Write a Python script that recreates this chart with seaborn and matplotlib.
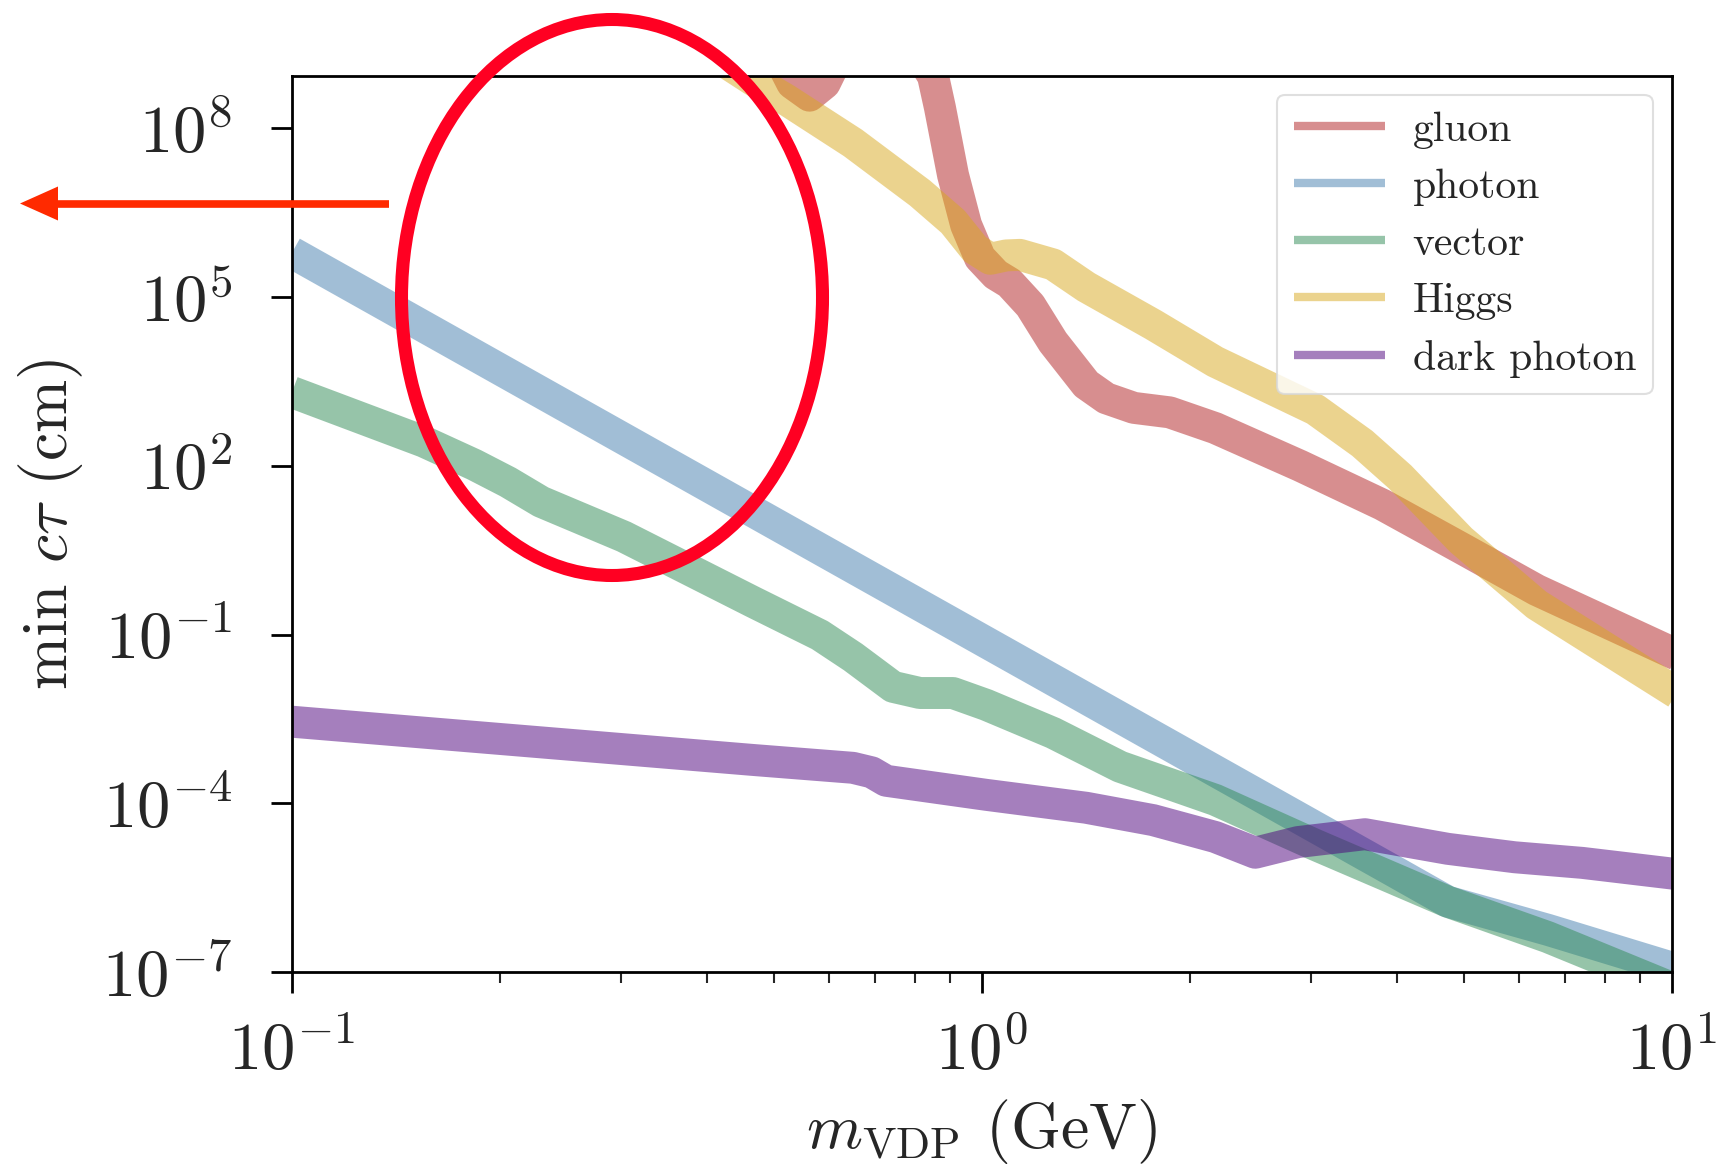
import numpy as np
import pandas as pd
import matplotlib
matplotlib.use("Agg")
import matplotlib.pyplot as plt
import seaborn as sns
from matplotlib.patches import Ellipse, Polygon
from matplotlib.lines import Line2D
from matplotlib.ticker import FixedLocator, FuncFormatter, LogLocator, NullFormatter, NullLocator

# ---- data: log10(m_VDP / GeV) and log10(min c*tau / cm) ----
gluon_logm = [-0.30, -0.275, -0.25, -0.228, -0.20, -0.14, -0.071, -0.061, -0.042, -0.023,
              -0.003, 0.020, 0.040, 0.070, 0.103, 0.151, 0.180, 0.220, 0.272, 0.338, 0.461,
              0.580, 0.694, 0.804, 1.007]
gluon_logct = [9.40, 8.80, 8.58, 8.80, 9.50, 10.30, 8.93, 8.37, 7.17, 6.28,
               5.70, 5.40, 5.25, 4.85, 4.20, 3.45, 3.20, 3.03, 2.95, 2.67, 2.00,
               1.31, 0.54, -0.21, -1.36]

photon_logm = [-1.0, 0.60, 0.675, 0.82, 1.007]
photon_logct = [5.79, -5.23, -5.75, -6.25, -6.95]

vector_logm = [-1.0, -0.809, -0.736, -0.687, -0.639, -0.519, -0.332, -0.235, -0.187, -0.129,
               -0.090, -0.042, 0.006, 0.103, 0.200, 0.338, 0.483, 0.675, 0.820, 1.007]
vector_logct = [3.31, 2.43, 2.02, 1.71, 1.36, 0.74, -0.42, -1.01, -1.40, -1.93,
                -2.04, -2.04, -2.25, -2.75, -3.35, -3.94, -4.74, -5.75, -6.38, -7.32]

higgs_logm = [-0.40, -0.332, -0.284, -0.187, -0.090, -0.042, -0.010, 0.012, 0.035, 0.055,
              0.103, 0.151, 0.248, 0.338, 0.483, 0.551, 0.606, 0.694, 0.804, 1.007]
higgs_logct = [9.40, 8.86, 8.51, 7.74, 6.85, 6.34, 5.85, 5.68, 5.74, 5.75,
               5.58, 5.18, 4.51, 3.85, 3.00, 2.40, 1.80, 0.68, -0.47, -2.04]

dark_logm = [-1.0, -0.332, -0.187, -0.160, -0.139, 0.006, 0.151, 0.248, 0.338, 0.396,
             0.458, 0.555, 0.675, 0.772, 0.870, 1.007]
dark_logct = [-2.55, -3.23, -3.37, -3.45, -3.60, -3.85, -4.08, -4.30, -4.60, -4.88,
              -4.69, -4.55, -4.81, -4.96, -5.06, -5.26]

series_names = ["gluon", "photon", "vector", "Higgs", "dark photon"]
series_colors = ["#b11f21", "#457faf", "#2f8b55", "#d9a91f", "#4d007d"]

y_ticks = [1e-7, 1e-4, 1e-1, 1e2, 1e5, 1e8]

# ---- style ----
sns.set_style("ticks")
plt.rcParams["font.family"] = ["cmr10", "DejaVu Serif"]
plt.rcParams["mathtext.fontset"] = "cm"
plt.rcParams["axes.formatter.use_mathtext"] = True
plt.rcParams["axes.unicode_minus"] = False

W, H = 1722, 1172
fig = plt.figure(figsize=(W / 100, H / 100), dpi=100)
ax = fig.add_axes([292 / W, 1 - 972 / H, (1672 - 292) / W, (972 - 76) / H])
ax.set_xscale("log")
ax.set_yscale("log")

all_logm = [gluon_logm, photon_logm, vector_logm, higgs_logm, dark_logm]
all_logct = [gluon_logct, photon_logct, vector_logct, higgs_logct, dark_logct]
for name, col, lm, lc in zip(series_names, series_colors, all_logm, all_logct):
    df = pd.DataFrame({"m": 10 ** np.array(lm), "ct": 10 ** np.array(lc)})
    sns.lineplot(data=df, x="m", y="ct", ax=ax, color=col, lw=23, alpha=0.5,
                 label=name, sort=False, estimator=None,
                 solid_joinstyle="round", solid_capstyle="butt")

ax.set_xlim(0.1, 10)
ax.set_ylim(1e-7, 10 ** 8.93)

fmt = FuncFormatter(lambda v, p: r"$10^{%d}$" % int(round(np.log10(v))))
ax.yaxis.set_major_locator(FixedLocator(y_ticks))
ax.yaxis.set_minor_locator(NullLocator())
ax.yaxis.set_major_formatter(fmt)
ax.xaxis.set_major_locator(LogLocator(base=10))
ax.xaxis.set_minor_locator(LogLocator(base=10, subs=np.arange(2, 10)))
ax.xaxis.set_minor_formatter(NullFormatter())
ax.xaxis.set_major_formatter(fmt)

ax.tick_params(axis="both", which="major", direction="out", length=15, width=2,
               labelsize=48, color="black")
ax.tick_params(axis="x", which="major", pad=20)
ax.tick_params(axis="y", which="major", pad=28)
ax.tick_params(axis="x", which="minor", direction="out", length=8, width=1.5)
for s in ax.spines.values():
    s.set_visible(True)
    s.set_linewidth(2)
    s.set_color("black")

ax.set_xlabel(r"$m_{\mathrm{VDP}}$ (GeV)", fontsize=46, labelpad=10)
ax.set_ylabel(r"min $c\tau$ (cm)", fontsize=46, labelpad=12)

leg = ax.legend(loc="upper right", bbox_to_anchor=(0.986, 0.979), borderaxespad=0,
                fontsize=30, frameon=True, fancybox=True, handlelength=2.2,
                handletextpad=0.65, labelspacing=0.47, borderpad=0.4)
leg.get_frame().set_edgecolor("#d8d8d8")
leg.get_frame().set_linewidth(1.5)
for h in leg.get_lines():
    h.set_linewidth(6)
    h.set_alpha(0.5)

# ---- annotations drawn on top of the figure ----
ell = Ellipse((612 / W, 1 - 297.5 / H), 421 / W, 556 / H, transform=fig.transFigure,
              fill=False, edgecolor="#ff0022", linewidth=9.4, zorder=10)
fig.add_artist(ell)
ya = 1 - 203.5 / H
fig.add_artist(Line2D([54 / W, 389 / W], [ya, ya], transform=fig.transFigure,
                      color="#ff2a00", linewidth=5.5, solid_capstyle="butt", zorder=10))
fig.add_artist(Polygon([[20 / W, ya], [58 / W, ya + 17 / H], [58 / W, ya - 17 / H]],
                       closed=True, transform=fig.transFigure, facecolor="#ff2a00",
                       edgecolor="none", zorder=10))

fig.savefig("out.png", dpi=100)
